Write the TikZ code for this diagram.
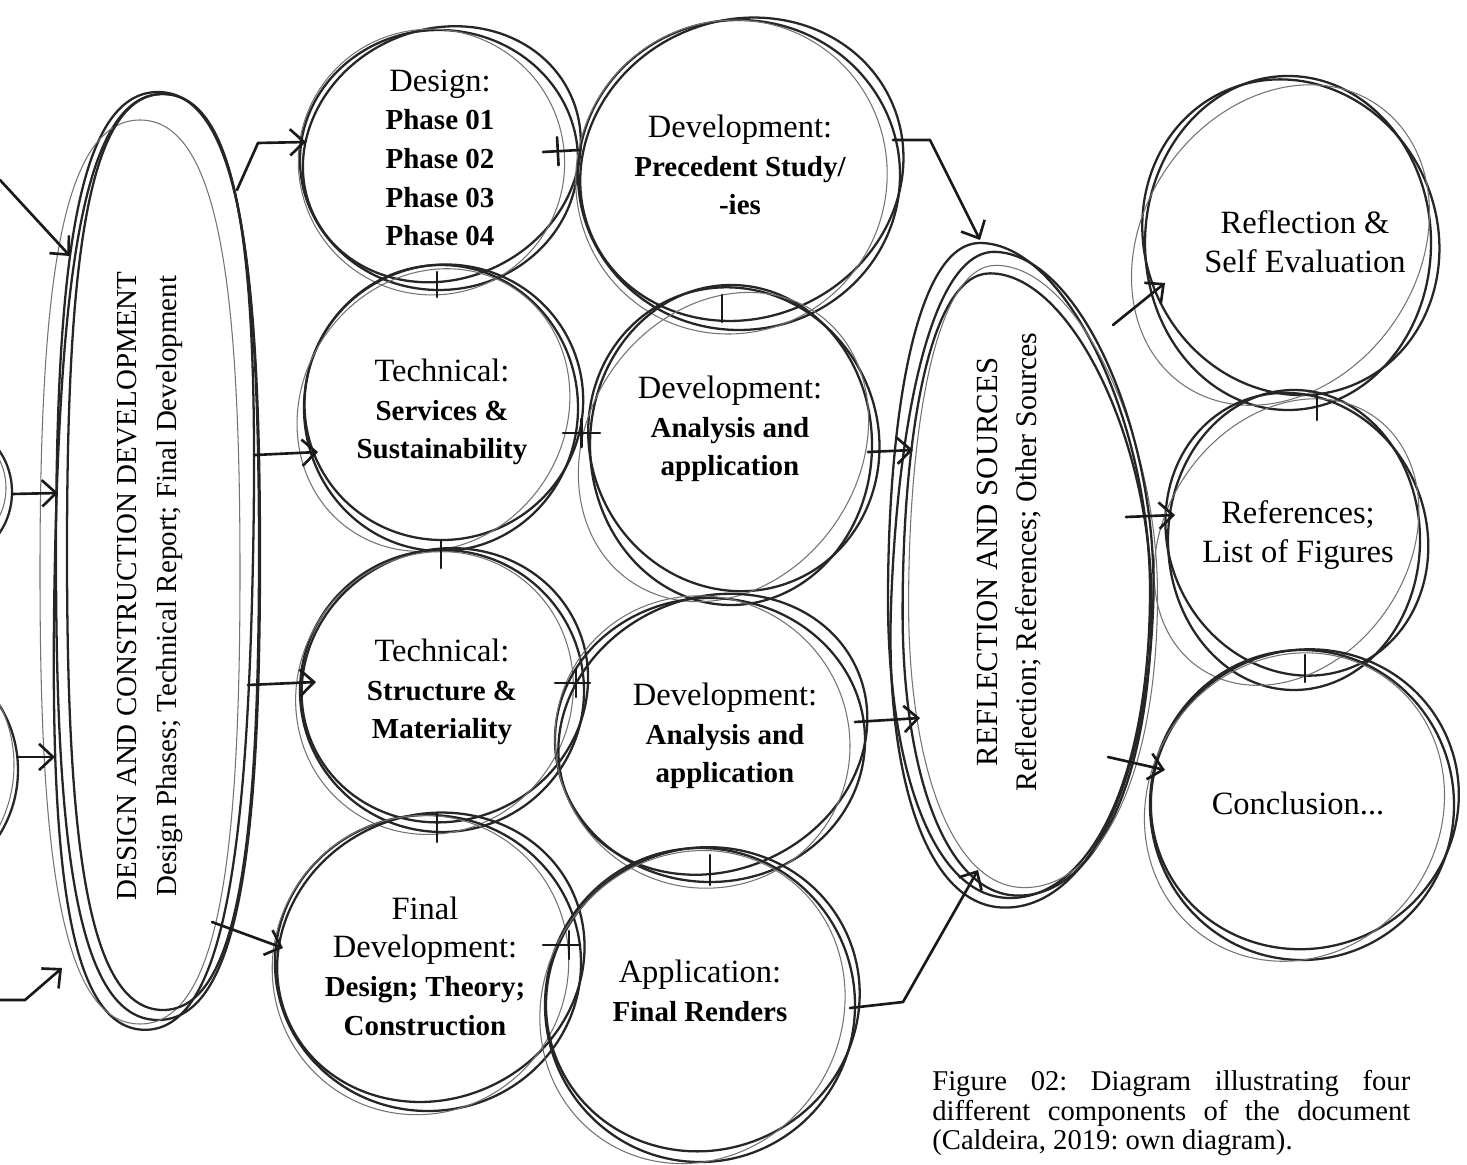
\documentclass[tikz,border=0pt]{standalone}
\usepackage{fontspec}
\setmainfont{Liberation Serif}
\frenchspacing
\usetikzlibrary{arrows.meta,shapes.geometric}
\tikzset{
 sk/.style={line width=1.3pt, black!85},
 skl/.style={line width=0.6pt, black!55},
 ring/.style={ellipse, draw=none, inner sep=0pt},
 txt/.style={align=center, font=\fontsize{18.5}{22}\selectfont, inner sep=0pt},
 con/.style={line width=1.5pt, black!90, line cap=round, line join=round},
 arr/.style={con, -{Straight Barb[length=8pt,width=15pt]}},
 tick/.style={draw, line width=1.5pt, black!90, shape=rectangle, minimum width=0pt, minimum height=16pt, inner sep=0pt, sloped},
}
\newcommand\bl[1]{{\fontsize{16.5}{22}\selectfont\bfseries #1}}
\newcommand\skc[4]{%
 \draw[sk] (#1,#2) circle [x radius=#3, y radius=#4];
 \draw[sk, rotate around={25:(#1,#2)}] (#1+5,#2-4) circle [x radius=#3*1.02, y radius=#4*0.96];
 \draw[skl, rotate around={-35:(#1,#2)}] (#1-5,#2+6) circle [x radius=#3*0.96, y radius=#4*1.02];
}
\newcommand\skoval[5]{%
 \draw[#1] (#2,#3-#5) .. controls (#2+0.8*#4,#3-#5) and (#2+#4,#3-0.62*#5) .. (#2+#4,#3)
  .. controls (#2+#4,#3+0.62*#5) and (#2+0.8*#4,#3+#5) .. (#2,#3+#5)
  .. controls (#2-0.8*#4,#3+#5) and (#2-#4,#3+0.62*#5) .. (#2-#4,#3)
  .. controls (#2-#4,#3-0.62*#5) and (#2-0.8*#4,#3-#5) .. (#2,#3-#5);
}
\newcommand\egg[1]{%
 \draw[#1] (980,243) .. controls (1065,243) and (1150,420) .. (1150,590)
  .. controls (1150,780) and (1090,898) .. (1010,898)
  .. controls (930,898) and (888,760) .. (888,600)
  .. controls (888,420) and (915,243) .. (980,243);
}
\begin{document}
\begin{tikzpicture}[x=0.02cm, y=-0.02cm]
\fill[white] (0,0) rectangle (1467,1165);
\useasboundingbox (0,0) rectangle (1467,1165);

% ---------- invisible named shapes ----------
\node[ring, minimum width=2.48cm, minimum height=2.72cm] (l1) at (-50,492) {};
\node[ring, minimum width=5.12cm, minimum height=5.12cm] (l2) at (-110,770) {};
\node[ring, minimum width=4.08cm, minimum height=18.64cm] (e1) at (158,558) {};
\node[ring, minimum width=5.56cm, minimum height=5.2cm] (c1) at (439,160) {};
\node[ring, minimum width=5.48cm, minimum height=5.72cm] (c2) at (441,408) {};
\node[ring, minimum width=5.68cm, minimum height=5.64cm] (c3) at (442,691) {};
\node[ring, minimum width=6.12cm, minimum height=5.92cm] (c4) at (428,963) {};
\node[ring, minimum width=6.44cm, minimum height=6.2cm] (d1) at (739,175) {};
\node[ring, minimum width=5.64cm, minimum height=6.4cm] (d2) at (731,445) {};
\node[ring, minimum width=6.2cm, minimum height=5.68cm] (d3) at (710,740) {};
\node[ring, minimum width=6.2cm, minimum height=6.28cm] (d4) at (700,1005) {};
\node[ring, minimum width=5.24cm, minimum height=13.12cm] (e2) at (1018,570) {};
\node[ring, minimum width=5.72cm, minimum height=6.68cm] (r1) at (1288,243) {};
\node[ring, minimum width=5.04cm, minimum height=6.0cm] (r2) at (1294,540) {};
\node[ring, minimum width=6.08cm, minimum height=6.2cm] (r3) at (1302,805) {};
\coordinate (s1) at (0,180);
\coordinate (s2) at (0,1000);

% ---------- sketched outlines ----------
\draw[sk] (-50,492) circle [x radius=62, y radius=68];
\draw[skl] (-58,488) circle [x radius=64, y radius=64];
\draw[sk] (-110,770) circle [x radius=128, y radius=125];
\draw[skl] (-116,765) circle [x radius=130, y radius=132];

\skoval{sk}{158}{556}{102}{464}
\skoval{sk, rotate around={-1.2:(158,558)}}{154}{562}{99}{468}
\skoval{skl}{140}{572}{100}{452}
\skoval{sk}{163}{552}{96}{458}

\skc{439}{160}{139}{130}
\skc{441}{408}{137}{143}
\skc{442}{691}{142}{141}
\skc{428}{963}{153}{148}
\skc{739}{175}{161}{155}
\skc{731}{445}{141}{160}
\skc{710}{740}{155}{142}
\skc{700}{1005}{155}{157}
\skc{1288}{243}{143}{167}
\skc{1294}{540}{126}{150}
\skc{1302}{805}{152}{155}

\egg{sk}
\egg{sk, shift={(51+8,28.5+14)}, scale=0.95}
\egg{skl, shift={(51+14,28.5+6)}, scale=0.95}
\egg{sk, shift={(4,10)}, rotate around={-2:(1018,570)}}

% ---------- texts ----------
\node[txt] (c1t) at (440,158) {Design:\\\bl{Phase 01}\\\bl{Phase 02}\\\bl{Phase 03}\\\bl{Phase 04}};
\node[txt] (c2t) at (442,412) {Technical:\\\bl{Services \&}\\\bl{Sustainability}};
\node[txt] (c3t) at (442,692) {Technical:\\\bl{Structure \&}\\\bl{Materiality}};
\node[txt] (c4t) at (425,966) {Final\\Development:\\\bl{Design; Theory;}\\\bl{Construction}};
\node[txt] (d1t) at (740,165) {Development:\\\bl{Precedent Study/}\\\bl{-ies}};
\node[txt] (d2t) at (730,429) {Development:\\\bl{Analysis and}\\\bl{application}};
\node[txt] (d3t) at (725,736) {Development:\\\bl{Analysis and}\\\bl{application}};
\node[txt] (d4t) at (700,991) {Application:\\\bl{Final Renders}};
\node[txt] (r1t) at (1305,242) {Reflection \&\\Self Evaluation};
\node[txt] (r2t) at (1298,535) {References;\\List of Figures};
\node[txt] (r3t) at (1298,803) {Conclusion...};
\node[align=center, rotate=90, inner sep=0pt, font=\fontsize{16.5}{23}\selectfont] (e1t) at (150,586)
  {DESIGN AND CONSTRUCTION DEVELOPMENT\\Design Phases; Technical Report; Final Development};
\node[align=center, rotate=90, inner sep=0pt, font=\fontsize{17.5}{22}\selectfont] (e2t) at (1009,562)
  {REFLECTION AND SOURCES\\{\fontsize{17}{22}\selectfont Reflection; References; Other Sources}};
\node[anchor=north west, text width=9.56cm, align=justify, inner sep=0pt, font=\fontsize{16.3}{16.8}\selectfont] (cap) at (932,1070)
  {Figure 02: Diagram illustrating four\linebreak different components of the document\linebreak (Caldeira, 2019: own diagram).};

% ---------- connectors ----------
% into left oval
\draw[arr] (s1) -- ([shift={(-88,-302)}]e1.center);
\draw[arr] ([shift={(62,2)}]l1.center) -- ([shift={(-100,-65)}]e1.center);
\draw[arr] ([shift={(128,-13)}]l2.center) -- ([shift={(-103,199)}]e1.center);
\draw[arr] (s2) -- ++(25,0) -- ([shift={(-96,410)}]e1.center);
% left oval to C column
\draw[arr] ([shift={(79,-368)}]e1.center) -- ++(21,-47) -- ([shift={(-133,-18)}]c1.center);
\draw[arr] ([shift={(97,-103)}]e1.center) -- ([shift={(-123,44)}]c2.center);
\draw[arr] ([shift={(90,127)}]e1.center) -- ([shift={(-126,-9)}]c3.center);
\draw[arr] ([shift={(54,364)}]e1.center) -- ([shift={(-145,-15)}]c4.center);
% C to D
\draw[con] ([shift={(104,-8)}]c1.center) -- node[tick, pos=0.4] (k1) {} ([shift={(-159,-25)}]d1.center);
\draw[con] ([shift={(122,25)}]c2.center) -- node[tick, pos=0.5] (k2) {} ([shift={(-131,-12)}]d2.center);
\draw[con] ([shift={(113,-8)}]c3.center) -- node[tick, pos=0.6] (k3) {} ([shift={(-120,-57)}]d3.center);
\draw[con] ([shift={(115,-18)}]c4.center) -- node[tick, pos=0.7] (k4) {} ([shift={(-120,-60)}]d4.center);
% vertical junction ticks
\draw[con] ([shift={(-2,112)}]c1.center) -- ([shift={(-4,-111)}]c2.center);
\draw[con] ([shift={(0,132)}]c2.center) -- ([shift={(-1,-123)}]c3.center);
\draw[con] ([shift={(-5,122)}]c3.center) -- ([shift={(9,-121)}]c4.center);
\draw[con] ([shift={(-17,120)}]d1.center) -- ([shift={(-9,-123)}]d2.center);
\draw[con] ([shift={(0,115)}]d3.center) -- ([shift={(10,-120)}]d4.center);
\draw[con] ([shift={(29,152)}]r1.center) -- ([shift={(23,-120)}]r2.center);
\draw[con] ([shift={(11,115)}]r2.center) -- ([shift={(3,-123)}]r3.center);
% D to right oval
\draw[arr] ([shift={(154,-35)}]d1.center) -- ++(37,0) -- ([shift={(-38,-330)}]e2.center);
\draw[arr] ([shift={(137,7)}]d2.center) -- ([shift={(-105,-120)}]e2.center);
\draw[arr] ([shift={(145,-18)}]d3.center) -- ([shift={(-98,148)}]e2.center);
\draw[arr] ([shift={(150,3)}]d4.center) -- ++(53,-6) -- ([shift={(-40,300)}]e2.center);
% right oval to R column
\draw[arr] ([shift={(95,-245)}]e2.center) -- ([shift={(-123,40)}]r1.center);
\draw[arr] ([shift={(108,-53)}]e2.center) -- ([shift={(-119,-25)}]r2.center);
\draw[arr] ([shift={(90,187)}]e2.center) -- ([shift={(-137,-35)}]r3.center);
\end{tikzpicture}
\end{document}
